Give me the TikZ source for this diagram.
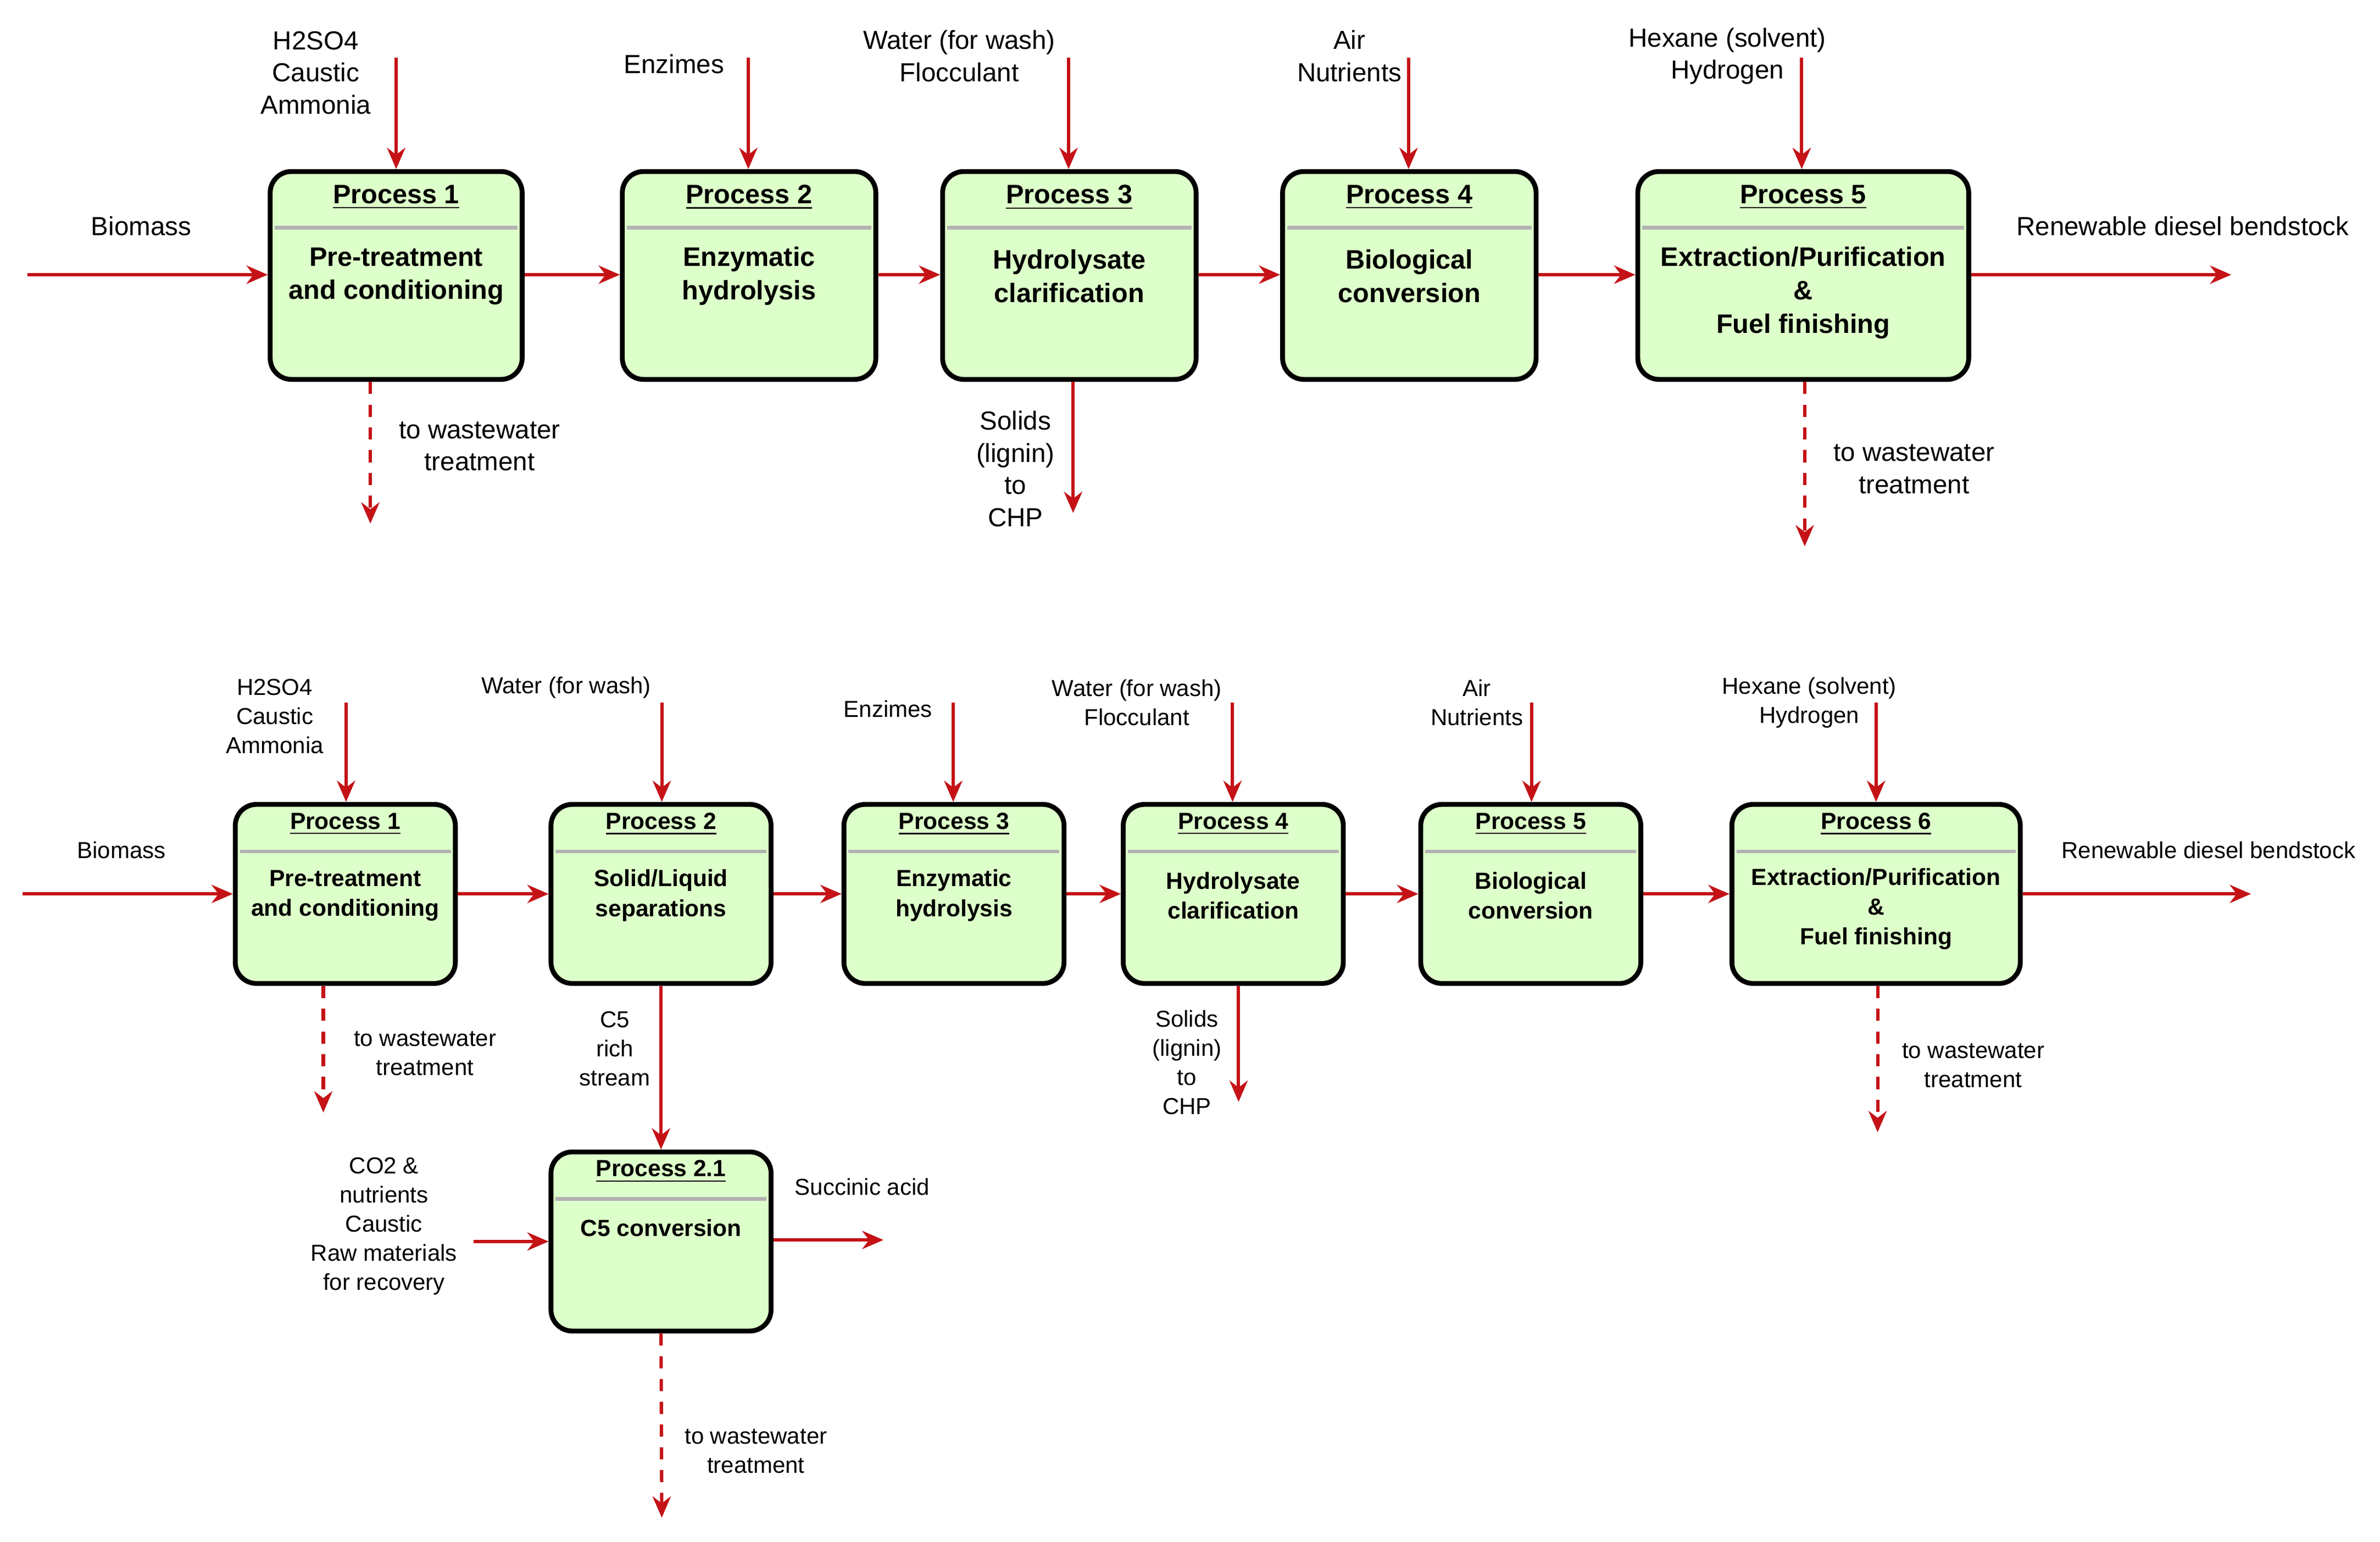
\documentclass[tikz,border=0pt]{standalone}
\usepackage{fontspec}
\setmainfont{Liberation Sans}
\usetikzlibrary{arrows.meta}
\definecolor{flowred}{RGB}{196,18,22}
\definecolor{boxgreen}{RGB}{221,255,201}
\tikzset{
  box/.style={draw, rounded corners=7pt, line width=1.6pt, fill=boxgreen, inner sep=0pt},
  flow/.style={draw=flowred, line width=1.1pt, -{Stealth[length=7pt,width=6pt]}},
  waste/.style={flow, dash pattern={on 4pt off 3.5pt}},
  lbl/.style={align=center, inner sep=0.5pt, font=\fontsize{8.6}{10.6}\selectfont},
  lbls/.style={align=center, inner sep=0.5pt, font=\fontsize{7.6}{9.6}\selectfont},
}
% name, x1, y1, x2, y2, line y, title y, body y, title, body, font
\newcommand{\procbox}[9]{%
  \node[box, minimum width={(#4-#2)*0.5pt}, minimum height={(#5-#3)*0.5pt}] (#1) at ({(#2+#4)/2},{(#3+#5)/2}) {};
  \draw[gray!60, line width=1.2pt] ({#2+3},#6) -- ({#4-3},#6);
  \node[font=\procfont\bfseries, inner sep=0pt] (#1t) at ({(#2+#4)/2},#7) {\underline{#9}};
  \node[font=\procfont\bfseries, align=center, inner sep=0pt] (#1b) at ({(#2+#4)/2},#8) {\procbody};
}
\begin{document}
\begin{tikzpicture}[x=0.5pt,y=0.5pt,yscale=-1]
\useasboundingbox (0,0) rectangle (1568,1016);

% ---- top row
\newcommand{\procfont}{\fontsize{8.8}{11}\selectfont}
\newcommand{\procbody}{}
\renewcommand{\procbody}{Pre-treatment\\and conditioning}
\procbox{ta}{178}{113}{344}{250}{150}{130}{182}{Process 1}
\renewcommand{\procbody}{Enzymatic\\hydrolysis}
\procbox{tb}{410}{113}{577}{250}{150}{130}{182}{Process 2}
\renewcommand{\procbody}{Hydrolysate\\clarification}
\procbox{tc}{621}{113}{788}{250}{150}{130}{182}{Process 3}
\renewcommand{\procbody}{Biological\\conversion}
\procbox{td}{845}{113}{1012}{250}{150}{130}{182}{Process 4}
\renewcommand{\procbody}{Extraction/Purification\\\&\\Fuel finishing}
\procbox{te}{1079}{113}{1297}{250}{150}{130}{193}{Process 5}

% inputs
\coordinate (tin) at (18,181);
\coordinate (tout) at (1470,181);
\draw[flow] (tin) -- (ta.west|-tin);
\draw[flow] (ta.east|-tin) -- (tb.west|-tin);
\draw[flow] (tb.east|-tin) -- (tc.west|-tin);
\draw[flow] (tc.east|-tin) -- (td.west|-tin);
\draw[flow] (td.east|-tin) -- (te.west|-tin);
\draw[flow] (te.east|-tin) -- (tout);
\node[lbl] (tbio) at (93,149) {Biomass};
\node[lbl] (tdiesel) at (1438,149) {Renewable diesel bendstock};

\coordinate (tai) at (261,38);  \draw[flow] (tai) -- (tai|-ta.north);
\coordinate (tbi) at (493,38);  \draw[flow] (tbi) -- (tbi|-tb.north);
\coordinate (tci) at (704,38);  \draw[flow] (tci) -- (tci|-tc.north);
\coordinate (tdi) at (928,38);  \draw[flow] (tdi) -- (tdi|-td.north);
\coordinate (tei) at (1187,38); \draw[flow] (tei) -- (tei|-te.north);
\node[lbl] (tachem) at (208,48) {H2SO4\\Caustic\\Ammonia};
\node[lbl] (tbenz) at (444,42) {Enzimes};
\node[lbl] (tcwash) at (632,37) {Water (for wash)\\Flocculant};
\node[lbl] (tdair) at (889,37) {Air\\Nutrients};
\node[lbl] (tehex) at (1138,37) {Hexane (solvent)\\Hydrogen};

% outputs
\coordinate (tao) at (244,345);  \draw[waste] (tao|-ta.south) -- (tao);
\coordinate (tco) at (707,338);  \draw[flow] (tco|-tc.south) -- (tco);
\coordinate (teo) at (1189,360); \draw[waste] (teo|-te.south) -- (teo);
\node[lbl] (taww) at (316,294) {to wastewater\\treatment};
\node[lbl] (tcchp) at (669,309) {Solids\\(lignin)\\to\\CHP};
\node[lbl] (teww) at (1261,309) {to wastewater\\treatment};

% ---- bottom row
\renewcommand{\procfont}{\fontsize{7.7}{9.8}\selectfont}
\renewcommand{\procbody}{Pre-treatment\\and conditioning}
\procbox{ba}{155}{530}{300}{648}{561}{543}{590}{Process 1}
\renewcommand{\procbody}{Solid/Liquid\\separations}
\procbox{bb}{363}{530}{508}{648}{561}{543}{590}{Process 2}
\renewcommand{\procbody}{Enzymatic\\hydrolysis}
\procbox{bc}{556}{530}{701}{648}{561}{543}{590}{Process 3}
\renewcommand{\procbody}{Hydrolysate\\clarification}
\procbox{bd}{740}{530}{885}{648}{561}{543}{590}{Process 4}
\renewcommand{\procbody}{Biological\\conversion}
\procbox{be}{936}{530}{1081}{648}{561}{543}{590}{Process 5}
\renewcommand{\procbody}{Extraction/Purification\\\&\\Fuel finishing}
\procbox{bf}{1141}{530}{1331}{648}{561}{543}{599}{Process 6}
\renewcommand{\procbody}{C5 conversion}
\procbox{bg}{363}{759}{508}{877}{790}{772}{809}{Process 2.1}

\coordinate (bin) at (15,589);
\coordinate (bout) at (1483,589);
\draw[flow] (bin) -- (ba.west|-bin);
\draw[flow] (ba.east|-bin) -- (bb.west|-bin);
\draw[flow] (bb.east|-bin) -- (bc.west|-bin);
\draw[flow] (bc.east|-bin) -- (bd.west|-bin);
\draw[flow] (bd.east|-bin) -- (be.west|-bin);
\draw[flow] (be.east|-bin) -- (bf.west|-bin);
\draw[flow] (bf.east|-bin) -- (bout);
\node[lbls] (bbio) at (80,560) {Biomass};
\node[lbls] (bdiesel) at (1455,560) {Renewable diesel bendstock};

\coordinate (bai) at (228,463);  \draw[flow] (bai) -- (bai|-ba.north);
\coordinate (bbi) at (436,463);  \draw[flow] (bbi) -- (bbi|-bb.north);
\coordinate (bci) at (628,463);  \draw[flow] (bci) -- (bci|-bc.north);
\coordinate (bdi) at (812,463);  \draw[flow] (bdi) -- (bdi|-bd.north);
\coordinate (bei) at (1009,463); \draw[flow] (bei) -- (bei|-be.north);
\coordinate (bfi) at (1236,463); \draw[flow] (bfi) -- (bfi|-bf.north);
\node[lbls] (bachem) at (181,472) {H2SO4\\Caustic\\Ammonia};
\node[lbls] (bbwash) at (373,453) {Water (for wash)};
\node[lbls] (bcenz) at (585,467) {Enzimes};
\node[lbls] (bdwash) at (749,463) {Water (for wash)\\Flocculant};
\node[lbls] (beair) at (973,463) {Air\\Nutrients};
\node[lbls] (bfhex) at (1192,463) {Hexane (solvent)\\Hydrogen};

\coordinate (bao) at (213,733);  \draw[waste] (bao|-ba.south) -- (bao);
\draw[flow] (bb.south) -- (bg.north);
\coordinate (bdo) at (816,726);  \draw[flow] (bdo|-bd.south) -- (bdo);
\coordinate (bfo) at (1237,746); \draw[waste] (bfo|-bf.south) -- (bfo);
\node[lbls] (baww) at (280,694) {to wastewater\\treatment};
\node[lbls] (bbc5) at (405,691) {C5\\rich\\stream};
\node[lbls] (bdchp) at (782,700) {Solids\\(lignin)\\to\\CHP};
\node[lbls] (bfww) at (1300,702) {to wastewater\\treatment};

\coordinate (bgi) at (312,818);  \draw[flow] (bgi) -- (bg.west|-bgi);
\coordinate (bgo) at (582,817);  \draw[flow] (bg.east|-bgo) -- (bgo);
\coordinate (bgw) at (436,1000); \draw[waste] (bg.south) -- (bgw);
\node[lbls] (bgraw) at (253,808) {CO2 \&\\nutrients\\Caustic\\Raw materials\\for recovery};
\node[lbls] (bgsucc) at (568,782) {Succinic acid};
\node[lbls] (bgww) at (498,956) {to wastewater\\treatment};
\end{tikzpicture}
\end{document}
